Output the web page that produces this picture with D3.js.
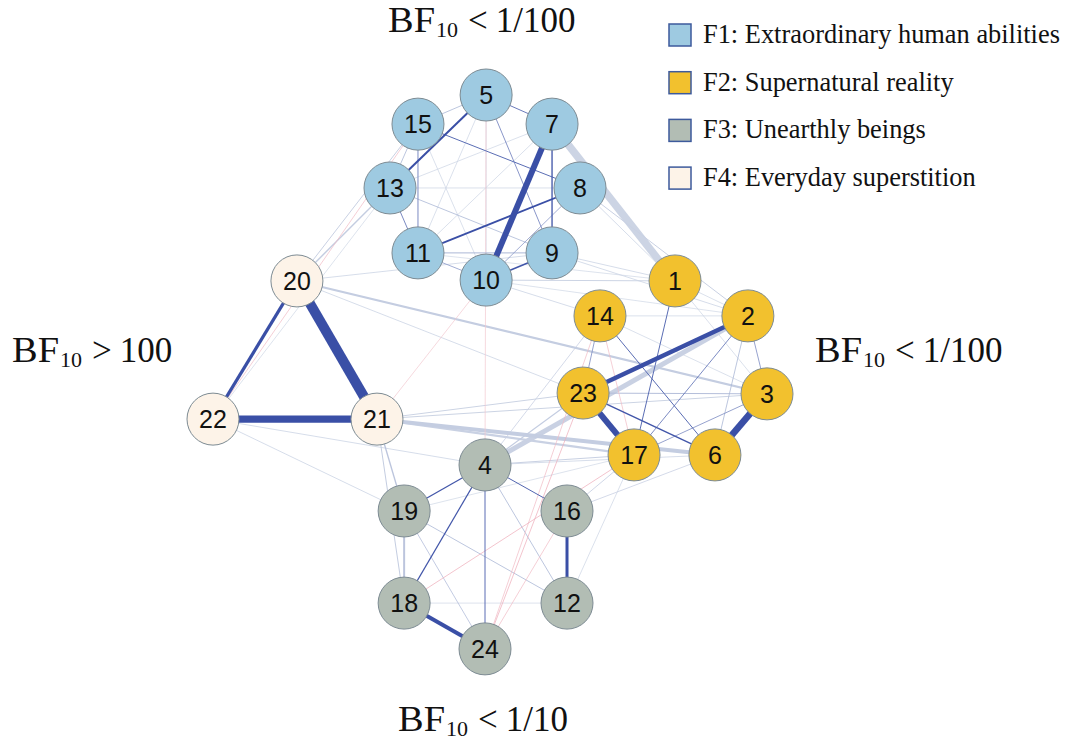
<!DOCTYPE html>
<html><head><meta charset="utf-8">
<script src="https://cdn.jsdelivr.net/npm/d3@7"></script>
<style>body{margin:0;background:#fff}svg{display:block}</style>
</head><body>
<svg id="chart" width="1071" height="747"></svg>
<script>
// ---- data ----
const nodeIds    = [5,15,7,13,8,11,9,10,20,1,14,2,22,21,23,3,17,6,4,19,16,18,12,24];
const nodeGroups = ["F1","F1","F1","F1","F1","F1","F1","F1","F4","F2","F2","F2","F4","F4","F2","F2","F2","F2","F3","F3","F3","F3","F3","F3"];
const layoutX    = [-0.014,-0.26,0.224,-0.361,0.325,-0.26,0.224,-0.014,-0.697,0.668,0.397,0.931,-1.0,-0.408,0.336,1.0,0.52,0.812,-0.018,-0.31,0.278,-0.31,0.278,-0.018];
const layoutY    = [-1.0,-0.895,-0.895,-0.665,-0.665,-0.431,-0.431,-0.333,-0.33,-0.33,-0.204,-0.204,0.168,0.168,0.074,0.077,0.297,0.297,0.333,0.499,0.499,0.831,0.831,0.996];
const groupNames = ["F1: Extraordinary human abilities","F2: Supernatural reality","F3: Unearthly beings","F4: Everyday superstition"];
const groupKeys  = ["F1","F2","F3","F4"];
// edges: source, target, partial correlation, evidence (inclusion)
const edgeSource = [20,22,20,7,3,23,23,18,16,5,11,10,7,23,4,4,4,4,14,1,2,5,15,5,13,15,14,3,2,11,10,11,15,15,13,
  7,4,21,21,20,19,20,20,21,21,19,19,4,2,23,4,4,10,10,9,9,8,8,22,22,22,20,20,21,21,19,16,16,12,13,11,10,5,5,15,7,7,1,1,14,14,18,4,4,
  24,24,18,22,14,10,5,24];
const edgeTarget = [21,21,22,10,6,17,2,24,12,13,8,9,9,6,19,18,24,16,6,17,17,7,8,9,11,11,23,17,3,10,8,9,5,13,9,
  1,2,6,17,3,18,13,15,19,18,24,12,12,6,3,23,14,14,1,1,2,1,2,19,4,13,23,9,23,3,17,17,6,17,8,1,2,10,11,10,13,11,2,3,2,3,12,17,6,
  23,14,17,15,17,21,4,16];
const edgeWeight = [0.5,0.36,0.16,0.3,0.34,0.3,0.22,0.2,0.15,0.1,0.09,0.08,0.07,0.07,0.06,0.06,0.05,0.05,0.05,0.05,0.04,0.05,0.05,0.04,0.05,0.05,0.04,0.04,0.04,0.04,0.04,0.05,0.04,0.04,0.04,
  0.38,0.25,0.2,0.12,0.1,0.1,0.07,0.05,0.07,0.05,0.04,0.04,0.04,0.04,0.05,0.06,0.04,0.04,0.05,0.04,0.04,0.04,0.05,0.04,0.04,0.03,0.04,0.04,0.05,0.05,0.03,0.04,0.04,0.03,0.03,0.03,0.03,0.03,0.03,0.03,0.03,0.03,0.03,0.03,0.03,0.03,0.03,0.05,0.04,
  -0.03,-0.03,-0.03,-0.03,-0.03,-0.02,-0.02,-0.02];
const edgeEvidence = [1,1,1,1,1,1,1,1,1,1,1,0.95,0.9,0.95,0.95,0.95,0.8,0.85,0.8,0.8,0.8,0.7,0.8,0.7,0.6,0.6,0.6,0.6,0.6,0.5,0.5,0.3,0.3,0.3,0.3,
  0.1,0.12,0.15,0.12,0.15,0.2,0.15,0.12,0.2,0.15,0.25,0.3,0.3,0.3,0.25,0.15,0.12,0.1,0.1,0.1,0.1,0.1,0.12,0.1,0.1,0.08,0.1,0.1,0.1,0.1,0.08,0.15,0.12,0.1,0.1,0.08,0.08,0.1,0.1,0.1,0.1,0.1,0.1,0.1,0.1,0.1,0.08,0.12,0.1,
  0.4,0.3,0.4,0.3,0.3,0.2,0.2,0.3];
const sideLabels = [
  {pos:"top", rel:"<", val:"1/100"},
  {pos:"left", rel:">", val:"100"},
  {pos:"right", rel:"<", val:"1/100"},
  {pos:"bottom", rel:"<", val:"1/10"}
];

// ---- build ----
const groupFill = {F1:"#9ecae1", F2:"#f2c12e", F3:"#b2bdb4", F4:"#fdf3e8"};
const nodes = nodeIds.map((id,i)=>({id, group:nodeGroups[i], lx:layoutX[i], ly:layoutY[i]}));
const byId = new Map(nodes.map(n=>[n.id,n]));
const edges = edgeSource.map((s,i)=>({s:byId.get(s), t:byId.get(edgeTarget[i]), w:edgeWeight[i], ev:edgeEvidence[i]}))
  .sort((a,b)=>a.ev-b.ev);

const svg = d3.select("#chart");
const x = d3.scaleLinear().domain([-1,1]).range([213,767]);
const y = d3.scaleLinear().domain([-1,1]).range([95,650]);
const width = d3.scaleLinear().domain([0,0.5]).range([0,10]);
const blue = d3.interpolateRgb("#dce3eb","#3a4fa6");
const red = d3.interpolateRgb("#f7e6ea","#e0526a");

svg.append("g").selectAll("line").data(edges).join("line")
  .attr("x1",d=>x(d.s.lx)).attr("y1",d=>y(d.s.ly))
  .attr("x2",d=>x(d.t.lx)).attr("y2",d=>y(d.t.ly))
  .attr("stroke",d=>d.w>0?blue(d.ev):red(d.ev))
  .attr("stroke-width",d=>Math.max(0.7,width(Math.abs(d.w))));

const ng = svg.append("g").selectAll("g").data(nodes).join("g")
  .attr("transform",d=>`translate(${x(d.lx)},${y(d.ly)})`);
ng.append("circle").attr("r",26).attr("fill",d=>groupFill[d.group])
  .attr("stroke","#7d8b93").attr("stroke-width",1);
ng.append("text").text(d=>d.id).attr("text-anchor","middle").attr("dy","0.36em")
  .attr("font-family","Liberation Sans, Arial, sans-serif").attr("font-size",25).attr("fill","#111");

// legend
const lg = svg.append("g").selectAll("g").data(groupKeys).join("g")
  .attr("transform",(d,i)=>`translate(669,${24+i*47.7})`);
lg.append("rect").attr("width",22).attr("height",22).attr("fill",d=>groupFill[d])
  .attr("stroke","#3d5a9c").attr("stroke-width",1.5);
lg.append("text").attr("x",34).attr("y",19).text((d,i)=>groupNames[i])
  .attr("font-family","Liberation Serif, Times New Roman, serif").attr("font-size",26.4).attr("fill","#111");

// side labels
const posMap = {top:[388,32], left:[12,362], right:[815,362], bottom:[398,731]};
sideLabels.forEach(s=>{
  const [px,py] = posMap[s.pos];
  const t = svg.append("text").attr("x",px).attr("y",py).attr("text-anchor","start")
    .attr("font-family","Liberation Serif, Times New Roman, serif").attr("font-size",35).attr("fill","#111");
  t.append("tspan").text("BF").attr("textLength",47).attr("lengthAdjust","spacingAndGlyphs");
  t.append("tspan").text("10").attr("font-size",22).attr("dy",5).attr("dx",1);
  t.append("tspan").text(s.rel).attr("dy",-5).attr("dx",10);
  t.append("tspan").text(s.val).attr("dx",8);
});
</script>
</body></html>
